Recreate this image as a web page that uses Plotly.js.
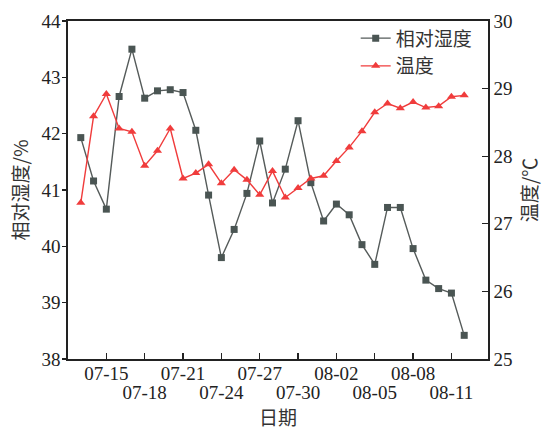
<!DOCTYPE html>
<html>
<head>
<meta charset="utf-8">
<script src="https://cdn.plot.ly/plotly-3.0.1.min.js"></script>
<style>html,body{margin:0;padding:0;background:#fff;}#chart{width:546px;height:430px;}</style>
</head>
<body>
<div id="chart"></div>
<script>
const dates = ['2020-07-13','2020-07-14','2020-07-15','2020-07-16','2020-07-17','2020-07-18','2020-07-19','2020-07-20','2020-07-21','2020-07-22','2020-07-23','2020-07-24','2020-07-25','2020-07-26','2020-07-27','2020-07-28','2020-07-29','2020-07-30','2020-07-31','2020-08-01','2020-08-02','2020-08-03','2020-08-04','2020-08-05','2020-08-06','2020-08-07','2020-08-08','2020-08-09','2020-08-10','2020-08-11','2020-08-12'];
const humidity = [41.93,41.16,40.66,42.66,43.50,42.63,42.76,42.78,42.73,42.06,40.91,39.80,40.30,40.94,41.87,40.77,41.37,42.23,41.13,40.45,40.75,40.56,40.03,39.68,40.69,40.69,39.96,39.40,39.25,39.17,38.42];
const temperature = [27.31,28.59,28.92,28.41,28.36,27.86,28.08,28.41,27.67,27.75,27.88,27.60,27.80,27.65,27.43,27.78,27.39,27.53,27.67,27.71,27.93,28.13,28.37,28.65,28.78,28.71,28.80,28.72,28.74,28.88,28.90];
const tickDatesUpper = ['2020-07-15','2020-07-21','2020-07-27','2020-08-02','2020-08-08'];
const tickLabelsUpper = ['07-15','07-21','07-27','08-02','08-08'];
const tickDatesLower = ['2020-07-18','2020-07-24','2020-07-30','2020-08-05','2020-08-11'];
const tickLabelsLower = ['07-18','07-24','07-30','08-05','08-11'];
const seriesNames = ['相对湿度','温度'];

const numFont = 'Liberation Serif, Times New Roman, serif';
const cjkFont = 'Noto Sans CJK SC, sans-serif';
const xRange = ['2020-07-12','2020-08-13 20:40'];

const traces = [
  {x: dates, y: humidity, name: seriesNames[0], type:'scatter', mode:'lines+markers',
   line:{color:'#555b5a', width:1.4}, marker:{symbol:'square', size:7, color:'#4a5553'}, xaxis:'x', yaxis:'y'},
  {x: dates, y: temperature, name: seriesNames[1], type:'scatter', mode:'lines+markers',
   line:{color:'#f03c3c', width:1.4}, marker:{symbol:'triangle-up', size:8, color:'#f03c3c'}, xaxis:'x', yaxis:'y2'}
];

const xCommon = {type:'date', range:xRange, tickmode:'array', tickangle:0,
  ticks:'inside', ticklen:6, tickwidth:1.2, tickcolor:'#222',
  showgrid:false, zeroline:false,
  tickfont:{family:numFont, size:19, color:'#222'}};

const layout = {
  width:546, height:430,
  margin:{l:68, r:58, t:21, b:71},
  paper_bgcolor:'#fff', plot_bgcolor:'#fff',
  showlegend:true,
  legend:{x:0.685, y:1.005, xanchor:'left', yanchor:'top', bgcolor:'rgba(0,0,0,0)',
          font:{family:cjkFont, size:19, color:'#333'}, tracegroupgap:0, itemwidth:30},
  xaxis:Object.assign({}, xCommon, {
         tickvals:tickDatesUpper, ticktext:tickLabelsUpper, ticklabelstandoff:-4,
         showline:true, linecolor:'#222', linewidth:1.8, mirror:true,
         title:{text:'日期', font:{family:cjkFont, size:19, color:'#333'}, standoff:36}}),
  xaxis2:Object.assign({}, xCommon, {
         overlaying:'x', anchor:'y', side:'bottom',
         tickvals:tickDatesLower, ticktext:tickLabelsLower, ticklabelstandoff:20,
         showline:false}),
  yaxis:{range:[38,44], dtick:1, tick0:38,
         ticks:'outside', ticklen:4, tickwidth:1.2, tickcolor:'#222', ticklabelstandoff:-2,
         showline:true, linecolor:'#222', linewidth:1.8,
         showgrid:false, zeroline:false,
         tickfont:{family:numFont, size:19, color:'#222'},
         title:{text:'相对湿度/%', font:{family:cjkFont, size:19, color:'#333'}, standoff:8}},
  yaxis2:{range:[25,30], dtick:1, tick0:25, overlaying:'y', side:'right',
         ticks:'inside', ticklen:6, tickwidth:1.2, tickcolor:'#222',
         showline:true, linecolor:'#222', linewidth:1.8,
         showgrid:false, zeroline:false,
         tickfont:{family:numFont, size:19, color:'#222'},
         title:{text:'温度/℃', font:{family:cjkFont, size:19, color:'#333'}, standoff:12}}
};

// an invisible trace anchors the lower-row date axis to the same data range
traces.push({x: dates, y: humidity, type:'scatter', mode:'none', showlegend:false, hoverinfo:'skip', xaxis:'x2', yaxis:'y'});

Plotly.newPlot('chart', traces, layout, {displayModeBar:false, staticPlot:true});
</script>
</body>
</html>
